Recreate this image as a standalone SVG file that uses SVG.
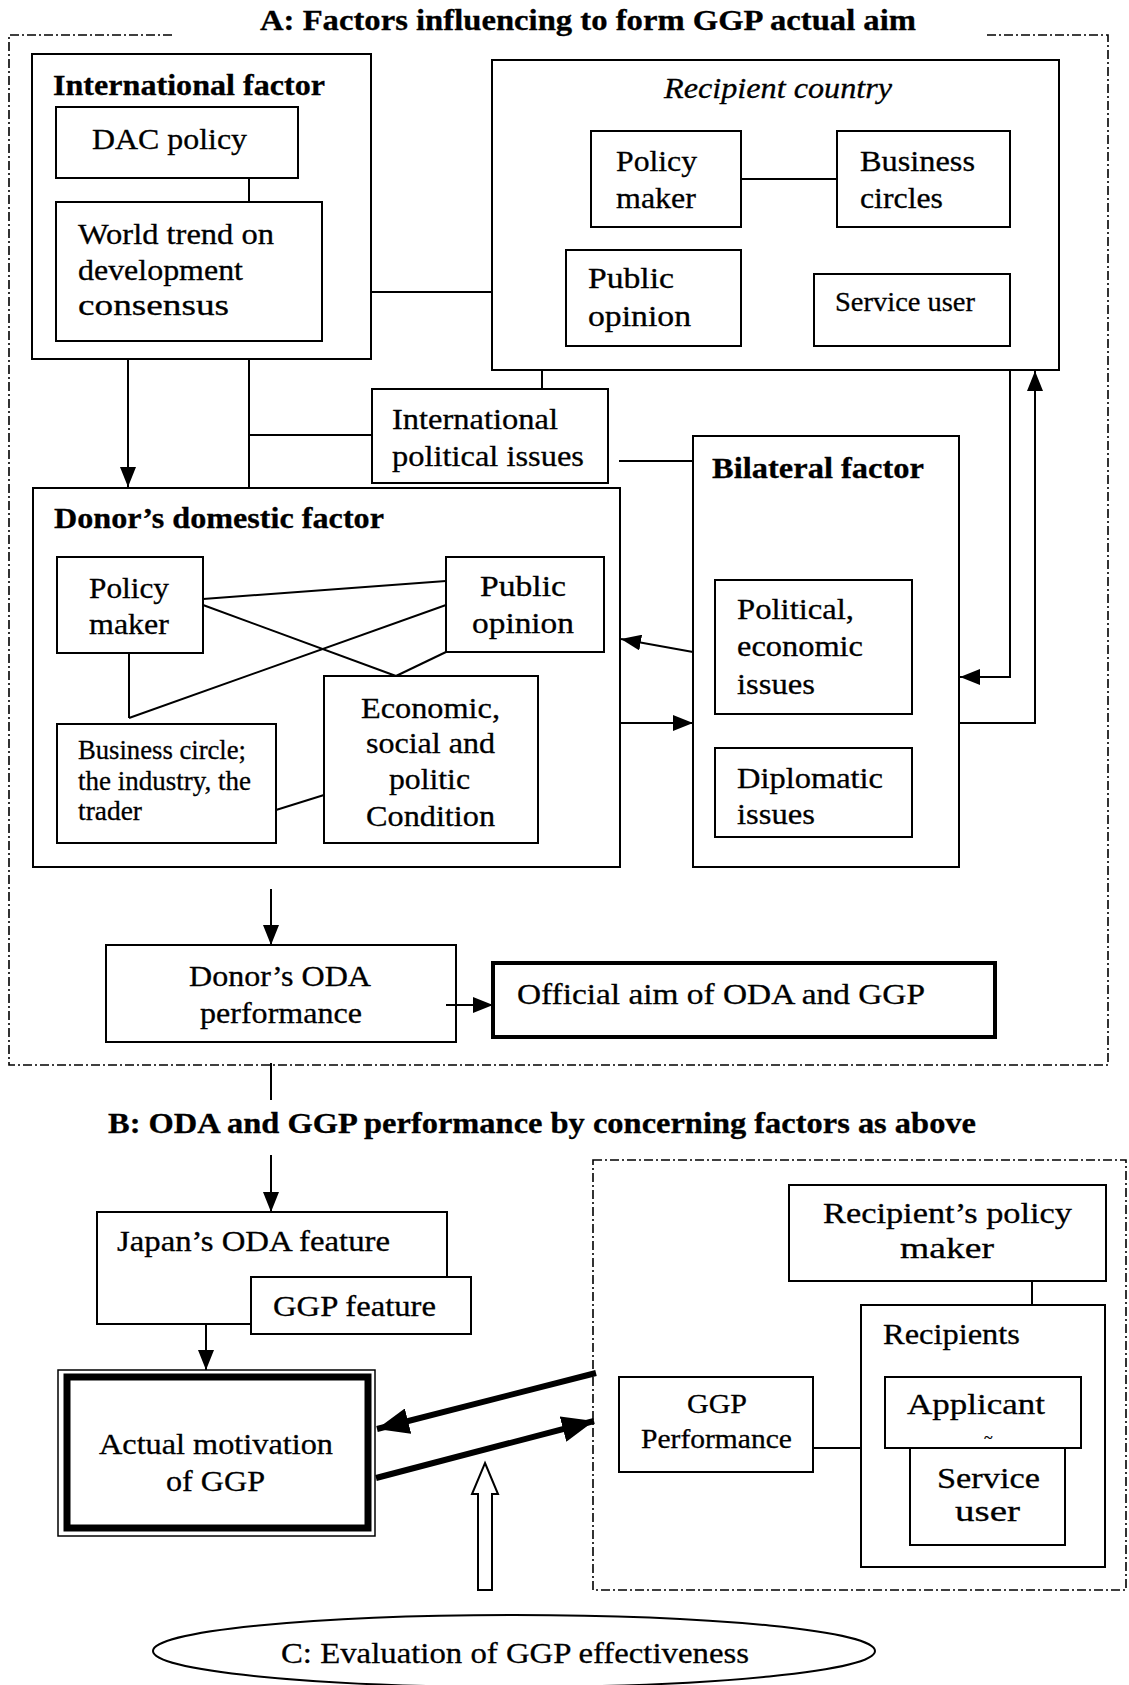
<svg xmlns="http://www.w3.org/2000/svg" width="1129" height="1685" viewBox="0 0 1129 1685" font-family="'Liberation Serif', 'Times New Roman', Times, serif">
<style>
  text { font-family: "Liberation Serif", "Times New Roman", Times, serif; font-size: 30px; fill: #000; stroke: #000; stroke-width: 0.3; }
  .b { font-weight: bold; font-size: 30px; }
  .i { font-style: italic; }
  .box { fill: #fff; stroke: #000; stroke-width: 2; }
  .ln { fill: none; stroke: #000; stroke-width: 2; }
  .dash { fill: none; stroke: #000; stroke-width: 1.6; stroke-dasharray: 9 3 2 3; }
</style>
<defs>
  <marker id="arr" viewBox="0 0 20 16" refX="20" refY="8" markerWidth="20" markerHeight="16" orient="auto" markerUnits="userSpaceOnUse">
    <path d="M0,0 L20,8 L0,16 z" fill="#000"/>
  </marker>
  <marker id="arrBig" viewBox="0 0 32 26" refX="32" refY="13" markerWidth="32" markerHeight="26" orient="auto" markerUnits="userSpaceOnUse">
    <path d="M0,0 L32,13 L0,26 z" fill="#000"/>
  </marker>
</defs>
<rect width="1129" height="1685" fill="#fff"/>

<!-- Section frames and titles -->
<g id="sectionA">
  <path class="dash" d="M172,35 L9,35 L9,1065 L1108,1065 L1108,35 L985,35"/>
  <text class="b" x="260" y="30" textLength="656" lengthAdjust="spacingAndGlyphs">A: Factors influencing to form GGP actual aim</text>
</g>
<g id="sectionB">
  <text class="b" x="108" y="1133" textLength="868" lengthAdjust="spacingAndGlyphs">B: ODA and GGP performance by concerning factors as above</text>
</g>
<g id="recipientSide">
  <rect class="dash" x="593" y="1160" width="533" height="430"/>
</g>

<!-- International factor -->
<g id="internationalFactor">
  <rect class="box" x="32" y="54" width="339" height="305"/>
  <text class="b" x="53" y="95" textLength="272" lengthAdjust="spacingAndGlyphs">International factor</text>
</g>
<g id="dacPolicy">
  <rect class="box" x="56" y="107" width="242" height="71"/>
  <text x="92" y="149" textLength="155" lengthAdjust="spacingAndGlyphs">DAC policy</text>
</g>
<g id="worldTrend">
  <rect class="box" x="56" y="202" width="266" height="139"/>
  <text x="78" y="244" textLength="196" lengthAdjust="spacingAndGlyphs">World trend on</text>
  <text x="78" y="280" textLength="165" lengthAdjust="spacingAndGlyphs">development</text>
  <text x="78" y="315" textLength="151" lengthAdjust="spacingAndGlyphs">consensus</text>
</g>

<!-- Recipient country -->
<g id="recipientCountry">
  <rect class="box" x="492" y="60" width="567" height="310"/>
  <text class="i" x="664" y="98" textLength="228" lengthAdjust="spacingAndGlyphs">Recipient country</text>
</g>
<g id="recPolicyMaker">
  <rect class="box" x="591" y="131" width="150" height="96"/>
  <text x="616" y="171" textLength="81" lengthAdjust="spacingAndGlyphs">Policy</text>
  <text x="616" y="208" textLength="80" lengthAdjust="spacingAndGlyphs">maker</text>
</g>
<g id="recBusiness">
  <rect class="box" x="837" y="131" width="173" height="96"/>
  <text x="860" y="171" textLength="115" lengthAdjust="spacingAndGlyphs">Business</text>
  <text x="860" y="208" textLength="83" lengthAdjust="spacingAndGlyphs">circles</text>
</g>
<g id="recPublic">
  <rect class="box" x="566" y="250" width="175" height="96"/>
  <text x="588" y="288" textLength="86" lengthAdjust="spacingAndGlyphs">Public</text>
  <text x="588" y="326" textLength="103" lengthAdjust="spacingAndGlyphs">opinion</text>
</g>
<g id="recServiceUser">
  <rect class="box" x="814" y="274" width="196" height="72"/>
  <text x="835" y="311" style="font-size:28px" textLength="140" lengthAdjust="spacingAndGlyphs">Service user</text>
</g>

<!-- International political issues -->
<g id="intlPolitical">
  <rect class="box" x="372" y="389" width="236" height="94"/>
  <text x="392" y="429" textLength="166" lengthAdjust="spacingAndGlyphs">International</text>
  <text x="392" y="466" textLength="192" lengthAdjust="spacingAndGlyphs">political issues</text>
</g>

<!-- Donor's domestic factor -->
<g id="donorDomestic">
  <rect class="box" x="33" y="488" width="587" height="379"/>
  <text class="b" x="54" y="528" textLength="330" lengthAdjust="spacingAndGlyphs">Donor’s domestic factor</text>
</g>
<g id="donorPolicyMaker">
  <rect class="box" x="57" y="557" width="146" height="96"/>
  <text x="89" y="598" textLength="80" lengthAdjust="spacingAndGlyphs">Policy</text>
  <text x="89" y="634" textLength="80" lengthAdjust="spacingAndGlyphs">maker</text>
</g>
<g id="donorPublic">
  <rect class="box" x="446" y="557" width="158" height="95"/>
  <text x="480" y="596" textLength="86" lengthAdjust="spacingAndGlyphs">Public</text>
  <text x="472" y="633" textLength="102" lengthAdjust="spacingAndGlyphs">opinion</text>
</g>
<g id="donorBusiness">
  <rect class="box" x="57" y="724" width="219" height="119"/>
  <text x="78" y="759" style="font-size:27px" textLength="168" lengthAdjust="spacingAndGlyphs">Business circle;</text>
  <text x="78" y="790" style="font-size:27px" textLength="173" lengthAdjust="spacingAndGlyphs">the industry, the</text>
  <text x="78" y="820" style="font-size:27px" textLength="64" lengthAdjust="spacingAndGlyphs">trader</text>
</g>
<g id="donorCondition">
  <rect class="box" x="324" y="676" width="214" height="167"/>
  <text x="361" y="718" textLength="139" lengthAdjust="spacingAndGlyphs">Economic,</text>
  <text x="366" y="753" textLength="129" lengthAdjust="spacingAndGlyphs">social and</text>
  <text x="389" y="789" textLength="81" lengthAdjust="spacingAndGlyphs">politic</text>
  <text x="366" y="826" textLength="129" lengthAdjust="spacingAndGlyphs">Condition</text>
</g>

<!-- Bilateral factor -->
<g id="bilateral">
  <rect class="box" x="693" y="436" width="266" height="431"/>
  <text class="b" x="712" y="478" textLength="212" lengthAdjust="spacingAndGlyphs">Bilateral factor</text>
</g>
<g id="politicalEconomic">
  <rect class="box" x="715" y="580" width="197" height="134"/>
  <text x="737" y="619" textLength="117" lengthAdjust="spacingAndGlyphs">Political,</text>
  <text x="737" y="656" textLength="126" lengthAdjust="spacingAndGlyphs">economic</text>
  <text x="737" y="694" textLength="78" lengthAdjust="spacingAndGlyphs">issues</text>
</g>
<g id="diplomatic">
  <rect class="box" x="715" y="748" width="197" height="89"/>
  <text x="737" y="788" textLength="146" lengthAdjust="spacingAndGlyphs">Diplomatic</text>
  <text x="737" y="824" textLength="78" lengthAdjust="spacingAndGlyphs">issues</text>
</g>

<!-- Donor's ODA performance / Official aim -->
<g id="donorODA">
  <rect class="box" x="106" y="945" width="350" height="97"/>
  <text x="189" y="986" textLength="182" lengthAdjust="spacingAndGlyphs">Donor’s ODA</text>
  <text x="200" y="1023" textLength="162" lengthAdjust="spacingAndGlyphs">performance</text>
</g>
<g id="officialAim">
  <rect x="493" y="963" width="502" height="74" fill="#fff" stroke="#000" stroke-width="4"/>
  <text x="517" y="1004" textLength="408" lengthAdjust="spacingAndGlyphs">Official  aim of ODA and GGP</text>
</g>

<!-- Part B -->
<g id="japanODA">
  <rect class="box" x="97" y="1212" width="350" height="112"/>
  <text x="117" y="1251" textLength="273" lengthAdjust="spacingAndGlyphs">Japan’s ODA feature</text>
</g>
<g id="ggpFeature">
  <rect class="box" x="251" y="1277" width="220" height="57"/>
  <text x="273" y="1316" textLength="163" lengthAdjust="spacingAndGlyphs">GGP feature</text>
</g>
<g id="actualMotivation">
  <rect x="58" y="1370" width="317" height="166" fill="#fff" stroke="#000" stroke-width="1.5"/>
  <rect x="67" y="1377" width="301" height="151" fill="none" stroke="#000" stroke-width="7"/>
  <text x="99" y="1454" textLength="234" lengthAdjust="spacingAndGlyphs">Actual motivation</text>
  <text x="166" y="1491" textLength="99" lengthAdjust="spacingAndGlyphs">of GGP</text>
</g>
<g id="recipPolicyMaker">
  <rect class="box" x="789" y="1185" width="317" height="96"/>
  <text x="823" y="1223" textLength="249" lengthAdjust="spacingAndGlyphs">Recipient’s policy</text>
  <text x="900" y="1258" textLength="94" lengthAdjust="spacingAndGlyphs">maker</text>
</g>
<g id="recipients">
  <rect class="box" x="861" y="1305" width="244" height="262"/>
  <text x="883" y="1344" textLength="137" lengthAdjust="spacingAndGlyphs">Recipients</text>
</g>
<g id="applicant">
  <rect class="box" x="885" y="1377" width="196" height="71"/>
  <text x="907" y="1414" textLength="138" lengthAdjust="spacingAndGlyphs">Applicant</text>
  <text x="984" y="1443" style="font-size:16px">~</text>
</g>
<g id="serviceUser">
  <rect class="box" x="910" y="1448" width="155" height="97"/>
  <text x="937" y="1488" textLength="103" lengthAdjust="spacingAndGlyphs">Service</text>
  <text x="955" y="1521" textLength="65" lengthAdjust="spacingAndGlyphs">user</text>
</g>
<g id="ggpPerformance">
  <rect class="box" x="619" y="1377" width="194" height="95"/>
  <text x="687" y="1413" style="font-size:28px" textLength="60" lengthAdjust="spacingAndGlyphs">GGP</text>
  <text x="641" y="1448" style="font-size:28px" textLength="151" lengthAdjust="spacingAndGlyphs">Performance</text>
</g>
<g id="evaluation">
  <ellipse cx="514" cy="1651" rx="361" ry="36" fill="#fff" stroke="#000" stroke-width="2"/>
  <text x="281" y="1663" textLength="468" lengthAdjust="spacingAndGlyphs">C: Evaluation of GGP effectiveness</text>
</g>

<!-- Connectors -->
<g id="connectors">
  <line class="ln" x1="249" y1="178" x2="249" y2="202"/>
  <line class="ln" x1="371" y1="292" x2="492" y2="292"/>
  <line class="ln" x1="741" y1="179" x2="837" y2="179"/>
  <line class="ln" x1="128" y1="359" x2="128" y2="487" marker-end="url(#arr)"/>
  <line class="ln" x1="249" y1="359" x2="249" y2="488"/>
  <line class="ln" x1="249" y1="435" x2="372" y2="435"/>
  <line class="ln" x1="542" y1="370" x2="542" y2="389"/>
  <line class="ln" x1="619" y1="461" x2="693" y2="461"/>
  <line class="ln" x1="693" y1="652" x2="621" y2="639" marker-end="url(#arr)"/>
  <line class="ln" x1="620" y1="723" x2="693" y2="723" marker-end="url(#arr)"/>
  <polyline class="ln" points="1010,370 1010,677 960,677" marker-end="url(#arr)"/>
  <polyline class="ln" points="959,723 1035,723 1035,371" marker-end="url(#arr)"/>
  <line class="ln" x1="203" y1="599" x2="446" y2="581"/>
  <line class="ln" x1="203" y1="605" x2="396" y2="676"/>
  <line class="ln" x1="446" y1="605" x2="129" y2="718"/>
  <line class="ln" x1="129" y1="653" x2="129" y2="718"/>
  <line class="ln" x1="446" y1="652" x2="396" y2="676"/>
  <line class="ln" x1="276" y1="810" x2="324" y2="795"/>
  <line class="ln" x1="271" y1="889" x2="271" y2="945" marker-end="url(#arr)"/>
  <line class="ln" x1="446" y1="1005" x2="493" y2="1005" marker-end="url(#arr)"/>
  <line class="ln" x1="271" y1="1063" x2="271" y2="1100"/>
  <line class="ln" x1="271" y1="1155" x2="271" y2="1212" marker-end="url(#arr)"/>
  <line class="ln" x1="206" y1="1324" x2="206" y2="1370" marker-end="url(#arr)"/>
  <line x1="596" y1="1373" x2="377" y2="1429" stroke="#000" stroke-width="6" marker-end="url(#arrBig)"/>
  <line x1="376" y1="1478" x2="594" y2="1421" stroke="#000" stroke-width="6" marker-end="url(#arrBig)"/>
  <polygon points="485,1463 498,1494 492,1494 492,1590 478,1590 478,1494 472,1494" fill="#fff" stroke="#000" stroke-width="2"/>
  <line class="ln" x1="1032" y1="1281" x2="1032" y2="1305"/>
  <line class="ln" x1="813" y1="1448" x2="861" y2="1448"/>
</g>
</svg>
